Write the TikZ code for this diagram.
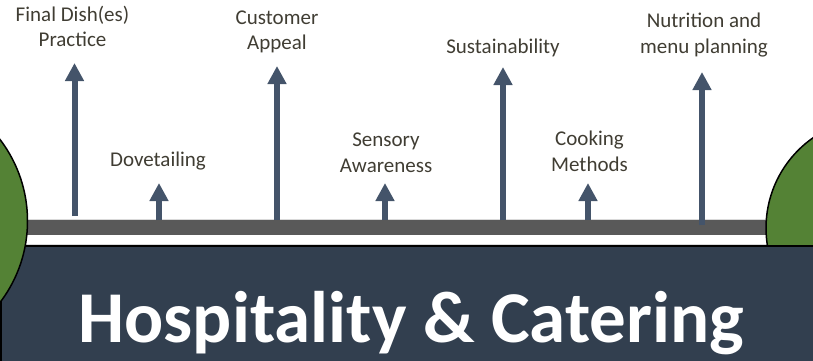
\documentclass[tikz,border=0pt]{standalone}
\usepackage{fontspec}
\setmainfont{Carlito}
\usetikzlibrary{arrows.meta,positioning}

\definecolor{navy}{HTML}{323F4F}
\definecolor{leaf}{HTML}{548235}
\definecolor{road}{HTML}{595959}
\definecolor{arrowblue}{HTML}{44546A}
\definecolor{labeltext}{HTML}{403D33}

\begin{document}
\begin{tikzpicture}[
    x=1pt, y=-1pt,
    topic/.style={font=\fontsize{21}{25.5}\selectfont, text=labeltext, align=center, inner sep=0pt, anchor=base},
    up/.style={draw=arrowblue, line width=6pt, -{Triangle[length=18pt, width=18pt]}},
    banner/.style={font=\fontsize{73}{80}\selectfont\bfseries, text=white, inner sep=0pt, anchor=base},
    tree/.style={fill=leaf, draw=black, line width=1.5pt}
]
\useasboundingbox (0,0) rectangle (813,361);
\clip (0,0) rectangle (813,361);

% Ground
\fill[road] (10,220) rectangle (790,235);
\draw[gray!30, line width=0.8pt] (10,219.4) -- (790,219.4);
\draw[gray!30, line width=0.8pt] (10,244.6) -- (790,244.6);
\node[tree, circle, minimum size=220pt] (righttree) at (876,228) {};
\fill[navy, draw=black, line width=1.5pt] (1,246) rectangle (830,380);
\node[tree, circle, minimum size=269pt] (lefttree) at (-107,221) {};

% Arrow ends
\coordinate (dish base) at (74.5,216);   \coordinate (dish tip) at (74.5,63);
\coordinate (dove base) at (159,220);    \coordinate (dove tip) at (159,183);
\coordinate (appeal base) at (277,220);  \coordinate (appeal tip) at (277,66);
\coordinate (sense base) at (385,220);   \coordinate (sense tip) at (385,183);
\coordinate (sust base) at (503,220);    \coordinate (sust tip) at (503,67);
\coordinate (cook base) at (588,220);    \coordinate (cook tip) at (588,183);
\coordinate (menu base) at (702,225);    \coordinate (menu tip) at (702,72);

\draw[up] (dish base) -- (dish tip);
\draw[up] (dove base) -- (dove tip);
\draw[up] (appeal base) -- (appeal tip);
\draw[up] (sense base) -- (sense tip);
\draw[up] (sust base) -- (sust tip);
\draw[up] (cook base) -- (cook tip);
\draw[up] (menu base) -- (menu tip);

% Labels (base = last line)
\node[topic] (dish) at (72.5,47) {Final Dish(es)\\Practice};
\node[topic] (dove) at (158,166) {Dovetailing};
\node[topic] (appeal) at (277,50) {Customer\\Appeal};
\node[topic] (sense) at (386,172) {Sensory\\Awareness};
\node[topic] (sust) at (503,53) {Sustainability};
\node[topic] (cook) at (589.5,171) {Cooking\\Methods};
\node[topic] (menu) at (704,53) {Nutrition and\\menu planning};

% Title
\node[banner] (title) at (411,342) {Hospitality \& Catering};

\end{tikzpicture}
\end{document}
